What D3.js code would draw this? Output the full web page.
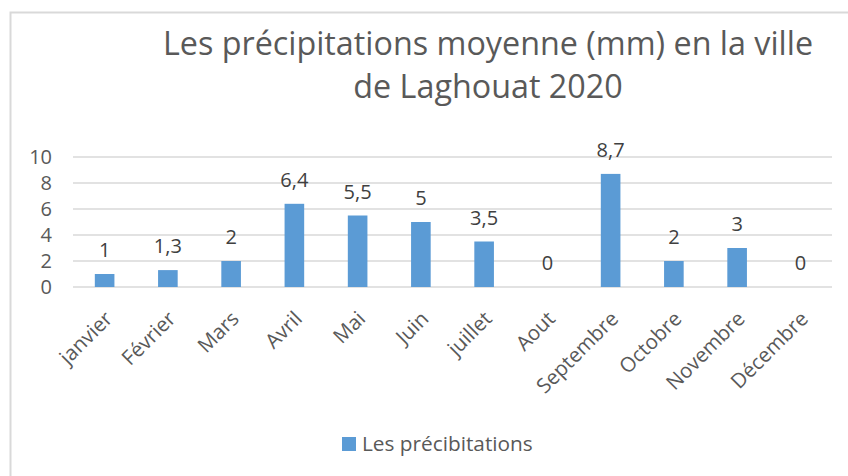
<!DOCTYPE html>
<html>
<head>
<meta charset="utf-8">
<script src="https://cdn.jsdelivr.net/npm/d3@7"></script>
<style>
  html, body { margin: 0; padding: 0; background: #fff; }
  svg { display: block; font-family: "Open Sans", "Noto Sans", sans-serif; }
</style>
</head>
<body>
<svg id="chart" width="848" height="476"></svg>
<script>
// Monthly precipitation, Laghouat 2020
const months = ["janvier", "Février", "Mars", "Avril", "Mai", "Juin", "juillet",
                "Aout", "Septembre", "Octobre", "Novembre", "Décembre"];
const precipitation = [1, 1.3, 2, 6.4, 5.5, 5, 3.5, 0, 8.7, 2, 3, 0];
const yTicks = [0, 2, 4, 6, 8, 10];
const titleLines = ["Les précipitations moyenne (mm) en la ville", "de Laghouat 2020"];
const seriesName = "Les précibitations";

const svg = d3.select("#chart");

// outer chart frame
svg.append("rect")
  .attr("x", 10.5).attr("y", 12.5)
  .attr("width", 860).attr("height", 480)
  .attr("fill", "#fff").attr("stroke", "#D9D9D9").attr("stroke-width", 2);

const plot = { left: 73, right: 832, top: 157, bottom: 287 };

const x = d3.scaleBand()
  .domain(months)
  .range([plot.left, plot.right])
  .paddingInner(0.69)
  .paddingOuter(0.345);

const y = d3.scaleLinear()
  .domain([0, 10])
  .range([plot.bottom, plot.top]);

// title
svg.append("text")
  .attr("x", 488).attr("y", 55)
  .attr("text-anchor", "middle")
  .attr("fill", "#595959")
  .style("font-size", "32.3px")
  .selectAll("tspan")
  .data(titleLines)
  .join("tspan")
  .attr("x", 488)
  .attr("dy", (d, i) => i === 0 ? 0 : 43)
  .text(d => d);

// horizontal gridlines
svg.append("g")
  .selectAll("line")
  .data(yTicks)
  .join("line")
  .attr("x1", plot.left).attr("x2", plot.right)
  .attr("y1", d => y(d)).attr("y2", d => y(d))
  .attr("stroke", "#D9D9D9").attr("stroke-width", 1.5);

// y axis labels
const yAxis = d3.axisLeft(y).tickValues(yTicks).tickSize(0).tickPadding(0)
  .tickFormat(d3.format("d"));
const yg = svg.append("g")
  .attr("transform", `translate(${plot.left - 21},0)`)
  .call(yAxis);
yg.select(".domain").remove();
yg.selectAll("text")
  .attr("fill", "#595959")
  .style("font-size", "20px")
  .style("font-family", "'Open Sans', sans-serif");

// bars
svg.append("g")
  .selectAll("rect")
  .data(precipitation)
  .join("rect")
  .attr("x", (d, i) => x(months[i]))
  .attr("y", d => y(d))
  .attr("width", x.bandwidth())
  .attr("height", d => y(0) - y(d))
  .attr("fill", "#5B9BD5");

// value labels
const fmt = v => String(v).replace(".", ",");
svg.append("g")
  .selectAll("text")
  .data(precipitation)
  .join("text")
  .attr("x", (d, i) => x(months[i]) + x.bandwidth() / 2)
  .attr("y", d => y(d) - 17)
  .attr("text-anchor", "middle")
  .attr("fill", "#404040")
  .style("font-size", "20px")
  .text(d => fmt(d));

// rotated month labels
const xAxis = d3.axisBottom(x).tickSize(0).tickPadding(0);
const xg = svg.append("g")
  .attr("transform", `translate(0,${plot.bottom})`)
  .call(xAxis);
xg.select(".domain").remove();
xg.selectAll("text")
  .attr("fill", "#595959")
  .style("font-size", "20.5px")
  .style("font-family", "'Open Sans', sans-serif")
  .attr("text-anchor", "end")
  .attr("dy", 0)
  .attr("y", 0)
  .attr("transform", "translate(9,33) rotate(-45)");

// legend
const legend = svg.append("g").attr("transform", "translate(342,437)");
legend.append("rect")
  .attr("width", 14).attr("height", 14)
  .attr("fill", "#5B9BD5");
legend.append("text")
  .attr("x", 20).attr("y", 14)
  .attr("fill", "#595959")
  .style("font-size", "20.8px")
  .text(seriesName);
</script>
</body>
</html>
